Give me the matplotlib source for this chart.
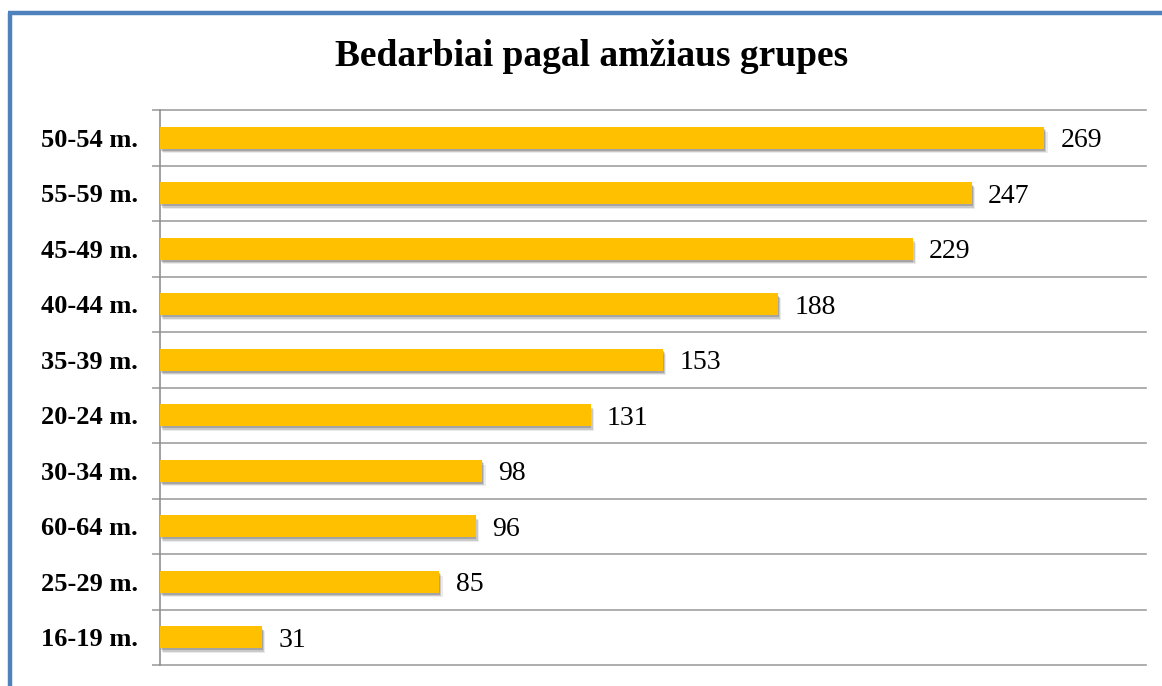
import numpy as np
import matplotlib
matplotlib.use("Agg")
import matplotlib.pyplot as plt
from matplotlib.lines import Line2D
import matplotlib.patheffects as pe

# data, top to bottom as shown
groups = ['50-54 m.', '55-59 m.', '45-49 m.', '40-44 m.', '35-39 m.',
          '20-24 m.', '30-34 m.', '60-64 m.', '25-29 m.', '16-19 m.']
counts = [269, 247, 229, 188, 153, 131, 98, 96, 85, 31]
title = 'Bedarbiai pagal amžiaus grupes'

plt.rcParams['font.family'] = ['Liberation Serif', 'DejaVu Serif']

W, H = 1162, 686
fig = plt.figure(figsize=(W/100, H/100), dpi=100)
fig.patch.set_facecolor('white')

# blue frame (left + top)
fig.add_artist(Line2D([10/W, 10/W], [0, 1-13/H], color='#4F81BD', lw=3.2,
                      solid_capstyle='butt', transform=fig.transFigure))
fig.add_artist(Line2D([8/W, 1], [1-13/H, 1-13/H], color='#4F81BD', lw=3.2,
                      solid_capstyle='butt', transform=fig.transFigure))

ax = fig.add_axes([160/W, 1-665/H, 986/W, 555/H])
y = np.arange(len(groups))
# soft drop shadow built from a few stacked translucent copies
shadow = [pe.SimplePatchShadow(offset=(0.5, -1.5), shadow_rgbFace='k', alpha=0.18),
          pe.SimplePatchShadow(offset=(1.5, -2.5), shadow_rgbFace='k', alpha=0.14),
          pe.SimplePatchShadow(offset=(2.5, -3.5), shadow_rgbFace='k', alpha=0.08),
          pe.Normal()]
bars = ax.barh(y, counts, height=0.39, color='#FFC000', zorder=3)
for b in bars:
    b.set_path_effects(shadow)

for yi, v in zip(y, counts):
    ax.text(v + 5, yi, str(v), va='center_baseline', ha='left', fontsize=20, color='black')

ax.set_xlim(0, 300)
ax.set_ylim(len(groups) - 0.5, -0.5)
ax.set_yticks(y)
ax.set_yticklabels(groups, fontsize=19, fontweight='bold')
ax.set_yticks(np.arange(len(groups) + 1) - 0.5, minor=True)
ax.tick_params(axis='y', which='major', length=0, pad=16)
ax.tick_params(axis='y', which='minor', length=6, color='#A0A0A0', width=1.2)
for lbl in ax.get_yticklabels():
    lbl.set_verticalalignment('center_baseline')
ax.set_xticks([])
for yb in np.arange(len(groups) + 1) - 0.5:
    ax.axhline(yb, color='#A0A0A0', lw=1.2, zorder=1, clip_on=False)

for s in ['top', 'right', 'bottom']:
    ax.spines[s].set_visible(False)
ax.spines['left'].set_color('#909090')
ax.spines['left'].set_linewidth(1.2)

fig.text(592/W, 1-57/H, title, ha='center', va='center', fontsize=27, fontweight='bold')

fig.savefig('out.png', dpi=100)
